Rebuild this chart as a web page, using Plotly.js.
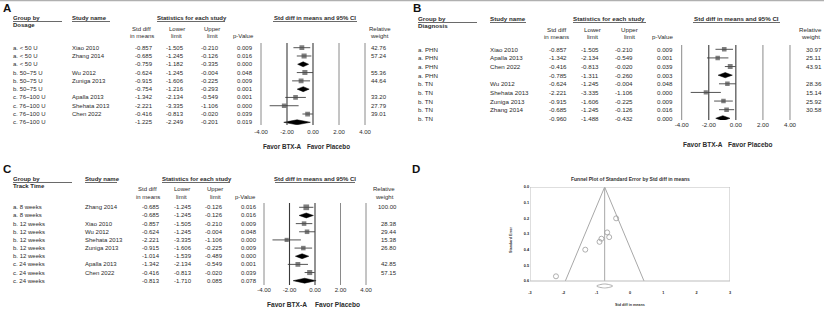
<!DOCTYPE html>
<html><head><meta charset="utf-8">
<script src="https://cdn.plot.ly/plotly-3.0.1.min.js"></script>
<style>html,body{margin:0;padding:0;background:#fff;}#chart{width:824px;height:310px;}</style>
</head><body><div id="chart"></div>
<script>
// ---------- DATA ----------
// Panel A: grouped by dosage
const aGroups = ['a. &lt; 50 U','a. &lt; 50 U','a. &lt; 50 U','b. 50~75 U','b. 50~75 U','b. 50~75 U','c. 76~100 U','c. 76~100 U','c. 76~100 U','c. 76~100 U'];
const aStudies = ['Xiao 2010','Zhang 2014','','Wu 2012','Zuniga 2013','','Apalla 2013','Shehata 2013','Chen 2022',''];
const aEst = [-0.857,-0.685,-0.759,-0.624,-0.915,-0.754,-1.342,-2.221,-0.416,-1.225];
const aLower = [-1.505,-1.245,-1.182,-1.245,-1.606,-1.216,-2.134,-3.335,-0.813,-2.249];
const aUpper = [-0.210,-0.126,-0.335,-0.004,-0.225,-0.293,-0.549,-1.106,-0.020,-0.201];
const aPValues = ['0.009','0.016','0.000','0.048','0.009','0.001','0.001','0.000','0.039','0.019'];
const aWeights = [42.76,57.24,null,55.36,44.64,null,33.20,27.79,39.01,null];

// Panel B: grouped by diagnosis
const bGroups = ['a. PHN','a. PHN','a. PHN','a. PHN','b. TN','b. TN','b. TN','b. TN','b. TN'];
const bStudies = ['Xiao 2010','Apalla 2013','Chen 2022','','Wu 2012','Shehata 2013','Zuniga 2013','Zhang 2014',''];
const bEst = [-0.857,-1.342,-0.416,-0.785,-0.624,-2.221,-0.915,-0.685,-0.960];
const bLower = [-1.505,-2.134,-0.813,-1.311,-1.245,-3.335,-1.606,-1.245,-1.488];
const bUpper = [-0.210,-0.549,-0.020,-0.260,-0.004,-1.106,-0.225,-0.126,-0.432];
const bPValues = ['0.009','0.001','0.039','0.003','0.048','0.000','0.009','0.016','0.000'];
const bWeights = [30.97,25.11,43.91,null,28.36,15.14,25.92,30.58,null];

// Panel C: grouped by track time
const cGroups = ['a. 8 weeks','a. 8 weeks','b. 12 weeks','b. 12 weeks','b. 12 weeks','b. 12 weeks','b. 12 weeks','c. 24 weeks','c. 24 weeks','c. 24 weeks'];
const cStudies = ['Zhang 2014','','Xiao 2010','Wu 2012','Shehata 2013','Zuniga 2013','','Apalla 2013','Chen 2022',''];
const cEst = [-0.685,-0.685,-0.857,-0.624,-2.221,-0.915,-1.014,-1.342,-0.416,-0.813];
const cLower = [-1.245,-1.245,-1.505,-1.245,-3.335,-1.606,-1.539,-2.134,-0.813,-1.710];
const cUpper = [-0.126,-0.126,-0.210,-0.004,-1.106,-0.225,-0.489,-0.549,-0.020,0.085];
const cPValues = ['0.016','0.016','0.009','0.048','0.000','0.009','0.000','0.001','0.039','0.078'];
const cWeights = [100.00,null,28.38,29.44,15.38,26.80,null,42.85,57.15,null];

// Panel D: funnel plot
const fStudies = ['Xiao 2010','Zhang 2014','Wu 2012','Zuniga 2013','Apalla 2013','Shehata 2013','Chen 2022'];
const fEst = [-0.857,-0.685,-0.624,-0.915,-1.342,-2.221,-0.416];
const fSE = [0.33,0.29,0.32,0.35,0.40,0.57,0.20];
const fPooled = -0.76;
const fFunnelX = [-1.94,-0.76,0.42];
const fFunnelY = [0.6,0.0,0.6];
const fDiamondLow = -1.0, fDiamondHigh = -0.52, fDiamondY = 0.632;

// Tick labels
const forestTickVals = [-4,-2,0,2,4];
const forestTickText = ['-4.00','-2.00','0.00','2.00','4.00'];
const funnelXTickVals = [-3,-2,-1,0,1,2,3];
const funnelXTickText = ['-3','-2','-1','0','1','2','3'];
const funnelYTickVals = [0,0.1,0.2,0.3,0.4,0.5,0.6];
const funnelYTickText = ['0.0','0.1','0.2','0.3','0.4','0.5','0.6'];

// Header texts
const groupTitles = ['Dosage','Diagnosis','Track Time'];
const hdrGroupBy = 'Group by', hdrStudy = 'Study name', hdrStats = 'Statistics for each study';
const hdrStd = ['Std diff','in means'], hdrLower = ['Lower','limit'], hdrUpper = ['Upper','limit'];
const hdrP = 'p-Value', hdrCI = 'Std diff in means and 95% CI', hdrWeight = ['Relative','weight'];
const favorLeft = 'Favor BTX-A', favorRight = 'Favor Placebo';
const panelLabels = ['A','B','C','D'];
const funnelTitle = 'Funnel Plot of Standard Error by Std diff in means';
const funnelXTitle = 'Std diff in means', funnelYTitle = 'Standard Error';

// ---------- LAYOUT HELPERS ----------
const W = 824, H = 310;
const px = x => x / W, py = y => 1 - y / H;
const FONT = '"Liberation Sans", Arial, sans-serif';
const TXT = '#2b2b2b';
const annotations = [], shapes = [], traces = [];
const layout = {width: W, height: H, margin: {l:0,r:0,t:0,b:0}, paper_bgcolor:'#fff', plot_bgcolor:'rgba(0,0,0,0)', showlegend:false, font:{family:FONT,color:TXT}};

function ann(text, x, y, o) {
  o = o || {};
  annotations.push({text: o.bold ? '<b>'+text+'</b>' : text, x: px(x), y: o.yref ? y : py(y), xref:'paper', yref: o.yref || 'paper',
    showarrow:false, xanchor: o.anchor || 'left', yanchor:'middle', borderpad:0, borderwidth:0,
    textangle: o.angle || 0, font:{family:FONT, size:o.size || 6, color:o.color || TXT}});
}
function hline(x0, x1, y, color, w) {
  shapes.push({type:'line', xref:'paper', yref:'paper', x0:px(x0), x1:px(x1), y0:py(y), y1:py(y), line:{color:color||'#444', width:w||0.8}});
}

function forestPanel(cfg, d) {
  const ax = cfg.ax, xa = 'x'+ax, ya = 'y'+ax;
  const n = d.est.length;
  const u = (cfg.xp4 - cfg.xm4) / 8;
  layout['xaxis'+ax] = {domain:[px(cfg.xm4 - 0.4*u), px(cfg.xp4 + 0.4*u)], range:[-4.4,4.4], anchor:ya,
    tickvals:forestTickVals, ticktext:forestTickText, ticks:'', showgrid:false, zeroline:false, showline:false,
    ticklabelstandoff: cfg.tickStand, tickfont:{family:FONT, size:cfg.fs, color:TXT}, fixedrange:true};
  const sp = (cfg.rowN - cfg.row0) / (n - 1);
  layout['yaxis'+ax] = {domain:[py(cfg.lineBot), py(cfg.lineTop)], range:[(n-1) + (cfg.lineBot - cfg.rowN)/sp, -(cfg.row0 - cfg.lineTop)/sp],
    anchor:xa, visible:false, fixedrange:true};
  forestTickVals.forEach(v => {
    const dark = (v === -2 || v === 0);
    shapes.push({type:'line', xref:xa, yref:ya+' domain', x0:v, x1:v, y0:0, y1:1, line:{color: dark ? '#3a3a3a' : '#8a8a8a', width: dark ? 1.1 : 1}});
  });
  const ciX = [], ciY = [], sqX = [], sqY = [], sqS = [], dX = [], dY = [];
  for (let i = 0; i < n; i++) {
    if (d.study[i]) {
      ciX.push(d.low[i], d.up[i], null); ciY.push(i, i, null);
      sqX.push(d.est[i]); sqY.push(i); sqS.push(3.2 + Math.sqrt(d.w[i]) * 0.25);
    } else {
      dX.push(d.low[i], d.est[i], d.up[i], d.est[i], d.low[i], null);
      dY.push(i, i - 0.3, i, i + 0.3, i, null);
    }
  }
  traces.push({type:'scatter', mode:'lines', x:ciX, y:ciY, xaxis:xa, yaxis:ya, line:{color:'#555', width:1}, hoverinfo:'skip'});
  traces.push({type:'scatter', mode:'markers', x:sqX, y:sqY, xaxis:xa, yaxis:ya, marker:{symbol:'square', color:'#4a4a4a', size:sqS, line:{width:0}}, hoverinfo:'skip'});
  traces.push({type:'scatter', mode:'lines', x:dX, y:dY, xaxis:xa, yaxis:ya, fill:'toself', fillcolor:'#000', line:{color:'#000', width:0.5}, hoverinfo:'skip'});
  const c = cfg.cols, fs = cfg.fs;
  for (let i = 0; i < n; i++) {
    const o = {yref:ya, size:fs};
    ann(d.group[i], c.group, i, o);
    if (d.study[i]) ann(d.study[i], c.study, i, o);
    ann(d.est[i].toFixed(3), c.est, i, Object.assign({anchor:'right'}, o));
    ann(d.low[i].toFixed(3), c.low, i, Object.assign({anchor:'right'}, o));
    ann(d.up[i].toFixed(3), c.up, i, Object.assign({anchor:'right'}, o));
    ann(d.p[i], c.p, i, Object.assign({anchor:'right'}, o));
    if (d.w[i] !== null) ann(d.w[i].toFixed(2), c.w, i, Object.assign({anchor:'right'}, o));
  }
  const h = cfg.hdr;
  ann(hdrGroupBy, c.group, h.y1, {bold:true, size:fs});
  ann(d.groupTitle, c.group, h.yG, {bold:true, size:fs});
  hline(c.group, h.ulGroup, h.ul);
  ann(hdrStudy, c.study, h.y1, {bold:true, size:fs});
  hline(c.study, h.ulStudy, h.ul);
  ann(hdrStats, h.statsX, h.y1, {bold:true, size:fs});
  hline(h.statsX, h.ulStats, h.ul);
  ann(hdrStd[0], h.stdC, h.y2, {anchor:'center', size:fs}); ann(hdrStd[1], h.stdC, h.y3, {anchor:'center', size:fs});
  ann(hdrLower[0], h.lowC, h.y2, {anchor:'center', size:fs}); ann(hdrLower[1], h.lowC, h.y3, {anchor:'center', size:fs});
  ann(hdrUpper[0], h.upC, h.y2, {anchor:'center', size:fs}); ann(hdrUpper[1], h.upC, h.y3, {anchor:'center', size:fs});
  ann(hdrP, h.pX, h.y3, {size:fs});
  ann(hdrCI, (h.ciL + h.ciR)/2, h.y1, {anchor:'center', bold:true, size:fs});
  hline(h.ciL, h.ciR, h.ul);
  ann(hdrWeight[0], h.wC, h.y2, {anchor:'center', size:fs}); ann(hdrWeight[1], h.wC, h.y3, {anchor:'center', size:fs});
  ann(favorLeft, h.favL, h.favY, {anchor:'right', bold:true, size:cfg.favFs});
  ann(favorRight, h.favR, h.favY, {bold:true, size:cfg.favFs});
}

forestPanel({ax:'', fs:6, favFs:6.3, tickStand:2, xm4:261, xp4:365, row0:47.7, rowN:122.3, lineTop:43, lineBot:125,
  cols:{group:13, study:72, est:153, low:184, up:219, p:253, w:387},
  hdr:{y1:18, yG:25, y2:29, y3:36, ul:21.5, ulGroup:62, ulStudy:110, statsX:157, ulStats:225,
       stdC:141.5, lowC:176.5, upC:212, pX:233, ciL:273, ciR:357, wC:379.5, favL:302, favR:307, favY:146}},
  {group:aGroups, study:aStudies, est:aEst, low:aLower, up:aUpper, p:aPValues, w:aWeights, groupTitle:groupTitles[0]});

forestPanel({ax:'2', fs:6.2, favFs:6.5, tickStand:2.5, xm4:681.7, xp4:790, row0:49.3, rowN:118.3, lineTop:45, lineBot:120,
  cols:{group:418, study:490, est:567, low:599, up:633, p:673, w:822},
  hdr:{y1:19, yG:25.7, y2:29.3, y3:36.7, ul:22.5, ulGroup:477, ulStudy:526, statsX:573, ulStats:646,
       stdC:556, lowC:592, upC:629.5, pX:652, ciL:693, ciR:780, wC:810.5, favL:723, favR:728, favY:144}},
  {group:bGroups, study:bStudies, est:bEst, low:bLower, up:bUpper, p:bPValues, w:bWeights, groupTitle:groupTitles[1]});

forestPanel({ax:'3', fs:6, favFs:6.6, tickStand:1.5, xm4:264, xp4:366, row0:207.3, rowN:280.7, lineTop:203, lineBot:285,
  cols:{group:13, study:85, est:160, low:192, up:223, p:257, w:397},
  hdr:{y1:179, yG:186, y2:189, y3:197, ul:182.5, ulGroup:72, ulStudy:117, statsX:162, ulStats:230,
       stdC:147.5, lowC:181.5, upC:215, pX:235, ciL:275, ciR:355, wC:384, favL:307, favR:315, favY:304}},
  {group:cGroups, study:cStudies, est:cEst, low:cLower, up:cUpper, p:cPValues, w:cWeights, groupTitle:groupTitles[2]});

// ---------- FUNNEL PLOT ----------
const fTop = 187, fPer = (281 - 187) / 0.6, fMax = 0.65;
const fTickFont = {family:FONT, size:3.8, color:'#222'};
layout.xaxis4 = {domain:[px(530), px(730)], range:[-3,3], anchor:'y4', tickvals:funnelXTickVals, ticktext:funnelXTickText.map(t => '<b>'+t+'</b>'),
  ticks:'', showgrid:false, zeroline:false, showline:false, tickfont:fTickFont, fixedrange:true};
layout.yaxis4 = {domain:[py(fTop + fMax*fPer), py(fTop)], range:[fMax, 0], anchor:'x4', tickvals:funnelYTickVals, ticktext:funnelYTickText.map(t => '<b>'+t+'</b>'),
  ticks:'', showgrid:false, zeroline:false, showline:false, tickfont:fTickFont, fixedrange:true};
shapes.push({type:'rect', xref:'x4', yref:'y4', x0:-3, x1:3, y0:0, y1:0.6, line:{color:'#bdbdbd', width:1}});
traces.push({type:'scatter', mode:'lines', x:fFunnelX, y:fFunnelY, xaxis:'x4', yaxis:'y4', line:{color:'#a8a8a8', width:1}, hoverinfo:'skip'});
traces.push({type:'scatter', mode:'lines', x:[fPooled, fPooled], y:[0, 0.6], xaxis:'x4', yaxis:'y4', line:{color:'#a8a8a8', width:1}, hoverinfo:'skip'});
traces.push({type:'scatter', mode:'lines', x:[fDiamondLow, fPooled, fDiamondHigh, fPooled, fDiamondLow], y:[fDiamondY, fDiamondY-0.013, fDiamondY, fDiamondY+0.013, fDiamondY],
  xaxis:'x4', yaxis:'y4', line:{color:'#9a9a9a', width:0.8, shape:'spline'}, hoverinfo:'skip'});
traces.push({type:'scatter', mode:'markers', x:fEst, y:fSE, text:fStudies, xaxis:'x4', yaxis:'y4',
  marker:{symbol:'circle-open', color:'#9a9a9a', size:5, line:{width:0.8}}, hoverinfo:'skip'});
ann(funnelTitle, 630, 178.5, {anchor:'center', bold:true, size:5, color:'#333'});
ann('<b>'+funnelXTitle+'</b>', 630, 305, {anchor:'center', size:3.7, color:'#333'});
ann('<b>'+funnelYTitle+'</b>', 511, 240, {anchor:'center', size:3.7, color:'#333', angle:-90});

// ---------- PANEL LABELS, BORDER ----------
ann(panelLabels[0], 2.5, 8, {bold:true, size:11.5, color:'#111'});
ann(panelLabels[1], 412.5, 8.3, {bold:true, size:11.5, color:'#111'});
ann(panelLabels[2], 2.5, 169, {bold:true, size:11.5, color:'#111'});
ann(panelLabels[3], 411.5, 169, {bold:true, size:11.5, color:'#111'});
hline(0, 824, 0.6, '#b0b0b0', 1.4);

layout.annotations = annotations;
layout.shapes = shapes;
Plotly.newPlot('chart', traces, layout, {staticPlot:true, displayModeBar:false});
</script></body></html>
